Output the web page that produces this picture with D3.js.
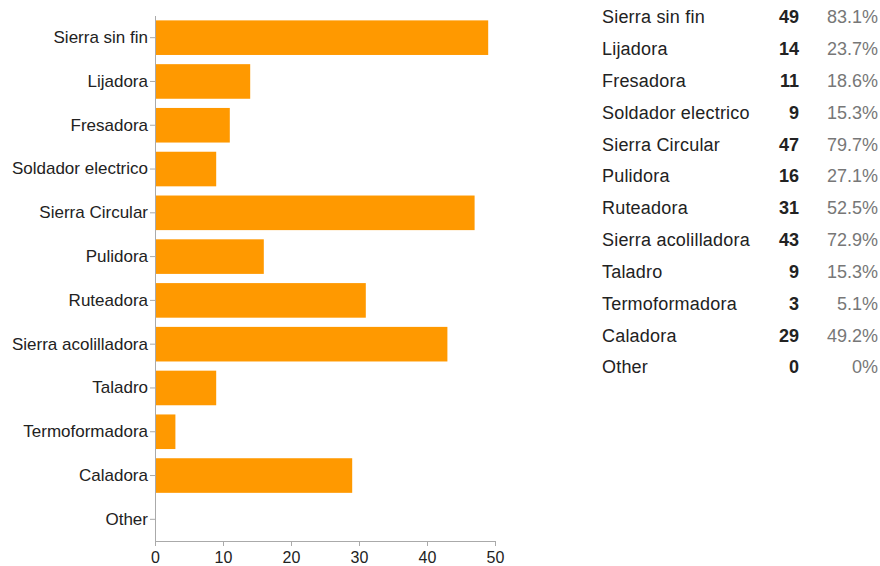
<!DOCTYPE html>
<html>
<head>
<meta charset="utf-8">
<script src="https://cdn.jsdelivr.net/npm/d3@7"></script>
<style>
  body { margin: 0; background: #fff; }
  svg { display: block; font-family: "Liberation Sans", Arial, sans-serif; }
</style>
</head>
<body>
<svg id="chart" width="880" height="566"></svg>
<script>
const categories = ["Sierra sin fin", "Lijadora", "Fresadora", "Soldador electrico", "Sierra Circular",
  "Pulidora", "Ruteadora", "Sierra acolilladora", "Taladro", "Termoformadora", "Caladora", "Other"];
const counts = [49, 14, 11, 9, 47, 16, 31, 43, 9, 3, 29, 0];
const percents = ["83.1%", "23.7%", "18.6%", "15.3%", "79.7%", "27.1%", "52.5%", "72.9%", "15.3%", "5.1%", "49.2%", "0%"];
const xTicks = [0, 10, 20, 30, 40, 50];

var svg = d3.select("svg#chart"),
  margin = {top: 16, right: 385, bottom: 26, left: 155},
  width = 880 - margin.left - margin.right,
  height = 566 - margin.top - margin.bottom;

var data = categories.map(function(c, i) { return {name: c, count: counts[i], pct: percents[i]}; });

var x = d3.scaleLinear().domain([0, 50]).range([0, 340]),
  y = d3.scaleBand().domain(categories).range([0, 525]).paddingInner(0.21).paddingOuter(0.1);

var g = svg.append("g")
  .attr("transform", "translate(" + margin.left + "," + margin.top + ")");

g.selectAll(".bar")
  .data(data)
  .enter().append("rect")
  .attr("class", "bar")
  .attr("x", 0)
  .attr("y", function(d) { return y(d.name); })
  .attr("width", function(d) { return x(d.count); })
  .attr("height", y.bandwidth())
  .attr("fill", "#ff9900");

var yAxis = g.append("g")
  .call(d3.axisLeft(y).tickSize(5).tickPadding(2));
yAxis.select(".domain").attr("stroke", "#aaa").attr("d", "M0.5,0V525");
yAxis.selectAll(".tick line").attr("stroke", "#aaa");
yAxis.selectAll(".tick text").attr("fill", "#222").style("font-size", "17px");

var xAxis = g.append("g")
  .attr("transform", "translate(0,525)")
  .call(d3.axisBottom(x).tickValues(xTicks).tickSize(5).tickPadding(6));
xAxis.select(".domain").attr("stroke", "#aaa").attr("d", "M0,0.5H340");
xAxis.selectAll(".tick line").attr("stroke", "#aaa");
xAxis.selectAll(".tick text").attr("fill", "#222").style("font-size", "16px");

// summary table on the right
var rowY = d3.scaleBand().domain(categories).range([1, 383]);
var table = svg.append("g").attr("transform", "translate(602,0)");
var row = table.selectAll(".row")
  .data(data)
  .enter().append("g")
  .attr("class", "row")
  .attr("transform", function(d) { return "translate(0," + (rowY(d.name) + rowY.bandwidth() / 2) + ")"; });

row.append("text")
  .attr("dy", "0.35em")
  .style("font-size", "18px")
  .style("letter-spacing", "0.2px")
  .attr("fill", "#222")
  .text(function(d) { return d.name; });

row.append("text")
  .attr("x", 197)
  .attr("dy", "0.35em")
  .attr("text-anchor", "end")
  .style("font-size", "18px")
  .style("font-weight", "bold")
  .attr("fill", "#222")
  .text(function(d) { return d.count; });

row.append("text")
  .attr("x", 276)
  .attr("dy", "0.35em")
  .attr("text-anchor", "end")
  .style("font-size", "18px")
  .attr("fill", "#777")
  .text(function(d) { return d.pct; });
</script>
</body>
</html>
